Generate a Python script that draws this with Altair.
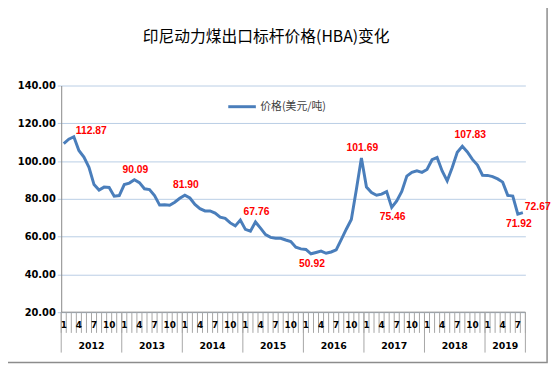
import altair as alt
import pandas as pd

title_text = "印尼动力煤出口标杆价格(HBA)变化"
series_name = "价格(美元/吨)"
years = ["2012", "2013", "2014", "2015", "2016", "2017", "2018", "2019"]
prices = [
    109.29, 111.58, 112.87, 105.61, 102.12, 96.65, 87.56, 84.65, 86.21, 86.04, 81.44, 81.75,
    87.55, 88.35, 90.09, 88.56, 85.33, 84.87, 81.69, 76.70, 76.89, 76.61, 78.19, 80.31,
    81.90, 80.44, 77.01, 74.81, 73.60, 73.64, 72.45, 70.29, 69.69, 67.26, 65.70, 68.80,
    63.84, 62.92, 67.76, 64.48, 61.08, 59.59, 59.16, 59.14, 58.21, 57.39, 54.43, 53.51,
    53.20, 50.92, 51.62, 52.32, 51.20, 51.87, 53.00, 58.37, 63.93, 69.07, 84.89, 101.69,
    86.23, 83.32, 81.90, 82.51, 83.81, 75.46, 78.95, 83.97, 92.03, 93.99, 94.80, 94.04,
    95.54, 100.69, 101.86, 94.75, 89.53, 96.61, 104.65, 107.83, 104.81, 100.89, 97.90, 92.51,
    92.41, 91.80, 90.57, 88.85, 81.86, 81.48, 71.92, 72.67,
]
label_index = [2, 14, 24, 38, 49, 59, 65, 79, 90, 91]
label_side = ["right", "above", "above", "above", "below", "above", "below", "upright", "below", "right"]
month_tick_labels = [1, 4, 7, 10]
y_ticks = [20, 40, 60, 80, 100, 120, 140]

n = len(prices)
df = pd.DataFrame({"i": list(range(n)), "price": prices, "series": series_name})
df["year"] = [years[k // 12] for k in range(n)]
df["month"] = [k % 12 + 1 for k in range(n)]

W, H = 471, 230
xs = alt.Scale(domain=[-0.5, n - 0.5], nice=False, zero=False)
ys = alt.Scale(domain=[20, 140], nice=False, zero=False)
yaxis = alt.Axis(
    values=y_ticks, format=".2f", title=None, grid=True, gridColor="#B9CDE5",
    gridWidth=1, domainColor="#868686", tickColor="#B9CDE5", tickSize=4,
    labelFont="DejaVu Sans", labelFontWeight="bold", labelFontSize=10,
    labelColor="#000000", labelPadding=2, labelOverlap=False, labelFlush=False)
X = lambda f: alt.X(f, scale=xs, axis=None)
Y = lambda f: alt.Y(f, scale=ys, axis=yaxis)

line = alt.Chart(df).mark_line(strokeWidth=3).encode(
    x=X("i:Q"),
    y=Y("price:Q"),
    color=alt.Color("series:N", scale=alt.Scale(range=["#4A7EBB"]), legend=alt.Legend(
        title=None, orient="none", legendX=168, legendY=6, symbolType="stroke",
        symbolStrokeWidth=3, symbolSize=784, labelFont="Noto Sans CJK SC",
        labelFontSize=11, labelColor="#404040", labelOffset=3, padding=0)),
)

# bottom axis line
base_df = pd.DataFrame({"v": [20]})
bottom = alt.Chart(base_df).mark_rule(color="#868686").encode(y=Y("v:Q"))

# month tick marks
bounds = pd.DataFrame({"b": [k - 0.5 for k in range(n + 1)]})
mticks = alt.Chart(bounds).mark_rule(color="#A6A6A6").encode(
    x=X("b:Q"), y=alt.value(H), y2=alt.value(H + 21))
ybounds = pd.DataFrame({"b": [k - 0.5 for k in range(0, n, 12)] + [n - 0.5]})
yticks_long = alt.Chart(ybounds).mark_rule(color="#A6A6A6").encode(
    x=X("b:Q"), y=alt.value(H), y2=alt.value(H + 41))

mlabels = alt.Chart(df).transform_filter(
    alt.FieldOneOfPredicate(field="month", oneOf=month_tick_labels)
).mark_text(font="DejaVu Sans", fontWeight="bold", fontSize=9, color="#000000",
            baseline="middle").encode(x=X("i:Q"), y=alt.value(H + 13.5), text="month:N")

ylabels = alt.Chart(df).transform_aggregate(
    c="mean(i)", groupby=["year"]
).mark_text(font="DejaVu Sans", fontWeight="bold", fontSize=9.5, color="#000000",
            baseline="middle").encode(x=X("c:Q"), y=alt.value(H + 34), text="year:N")

lab = pd.DataFrame({"i": label_index, "price": [prices[k] for k in label_index],
                    "side": label_side})
lab["t"] = [f"{p:.2f}" for p in lab["price"]]
offsets = {"above": ("center", 1, -10), "below": ("center", 1, 10),
           "right": ("left", 2, -6), "upright": ("center", 8, -11)}
label_layers = []
for side, (al, dx, dy) in offsets.items():
    label_layers.append(
        alt.Chart(lab).transform_filter(alt.datum.side == side).mark_text(
            align=al, baseline="middle", dx=dx, dy=dy, font="Liberation Sans",
            fontSize=10.5, fontWeight="bold", color="#FF0000"
        ).encode(x=X("i:Q"), y=Y("price:Q"), text="t:N"))

one = pd.DataFrame({"t": [title_text]})
title = alt.Chart(one).mark_text(font="Noto Sans CJK SC", fontSize=16, color="#000000",
                                  baseline="middle", align="center").encode(
    x=alt.value(208), y=alt.value(-49), text="t:N")
frame = alt.Chart(one).mark_rect(filled=False, stroke="#8C8C8C", strokeWidth=1.5).encode(
    x=alt.value(-58), x2=alt.value(493), y=alt.value(-81), y2=alt.value(281))

chart = alt.layer(line, bottom, frame, title, mticks, yticks_long, mlabels, ylabels,
                  *label_layers).properties(
    width=W, height=H,
    padding={"left": 54, "top": 76, "right": 27, "bottom": 55},
    autosize=alt.AutoSizeParams(type="none"),
).configure_view(stroke=None)

chart.save("out.html", embed_options={"renderer": "svg", "actions": False})
